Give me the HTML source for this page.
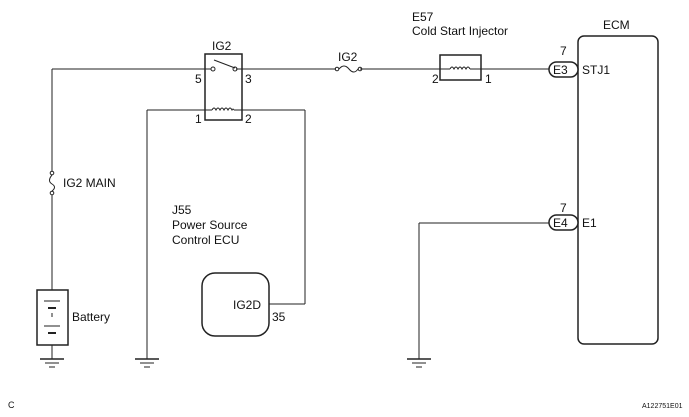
<!DOCTYPE html>
<html><head><meta charset="utf-8"><style>
html,body{margin:0;padding:0;background:#fff;}
svg{display:block;}
text{font-family:"Liberation Sans",Arial,sans-serif;font-size:12px;fill:#111;}
</style></head><body>
<svg width="689" height="417" viewBox="0 0 689 417" xmlns="http://www.w3.org/2000/svg">
<g fill="none" stroke="#222" stroke-width="1">
<!-- main top wire -->
<line x1="52" y1="69" x2="211" y2="69"/>
<line x1="236" y1="69" x2="336" y2="69"/>
<line x1="360" y1="69" x2="549" y2="69"/>
<!-- relay -->
<rect x="205" y="54" width="37" height="66" stroke-width="1.5"/>
<circle cx="213" cy="69" r="2"/><circle cx="235" cy="69" r="2"/>
<line x1="214" y1="60" x2="235" y2="68"/>
<!-- coil wire -->
<line x1="147" y1="110" x2="212" y2="110"/>
<line x1="234" y1="110" x2="305" y2="110"/>
<path d="M212 110 q2 -4 4 0 q2 -4 4 0 q2 -4 4 0 q2 -4 4 0 q2 -4 4 0 q1 -2 2 0"/>
<!-- left vertical with IG2 MAIN fuse -->
<line x1="52" y1="69" x2="52" y2="171"/>
<circle cx="52" cy="173" r="1.8"/>
<path d="M52 175 q-5 6 0 9 q5 3 0 7"/>
<circle cx="52" cy="193" r="1.8"/>
<line x1="52" y1="195" x2="52" y2="290"/>
<!-- battery -->
<rect x="37" y="290" width="31" height="55" stroke-width="1.5"/>
<line x1="44" y1="301" x2="60" y2="301"/>
<line x1="48" y1="308" x2="56" y2="308" stroke-width="2"/>
<line x1="52" y1="313" x2="52" y2="317"/>
<line x1="44" y1="326" x2="60" y2="326"/>
<line x1="48" y1="333" x2="56" y2="333" stroke-width="2"/>
<line x1="52" y1="345" x2="52" y2="359"/>
<line x1="40" y1="359" x2="64" y2="359" stroke-width="1.5"/>
<line x1="45" y1="363" x2="59" y2="363"/>
<line x1="49" y1="367" x2="55" y2="367"/>
<!-- ground from relay 1 -->
<line x1="147" y1="110" x2="147" y2="359"/>
<line x1="135" y1="359" x2="159" y2="359" stroke-width="1.5"/>
<line x1="140" y1="363" x2="154" y2="363"/>
<line x1="144" y1="367" x2="150" y2="367"/>
<!-- right relay wire to ECU -->
<line x1="305" y1="110" x2="305" y2="304"/>
<line x1="269" y1="304" x2="305" y2="304"/>
<rect x="202" y="273" width="67" height="63" rx="13" stroke-width="1.5"/>
<!-- IG2 fuse -->
<circle cx="337" cy="69" r="1.8"/>
<path d="M339 69 q5 -6 10 0 q5 6 9 0"/>
<circle cx="360" cy="69" r="1.8"/>
<!-- injector -->
<rect x="440" y="55" width="41" height="25" fill="#fff" stroke-width="1.5"/>
<line x1="440" y1="69" x2="450" y2="69"/>
<path d="M450 69 q2 -4 4 0 q2 -4 4 0 q2 -4 4 0 q2 -4 4 0 q2 -4 4 0"/>
<line x1="470" y1="69" x2="481" y2="69"/>
<!-- ECM -->
<rect x="578" y="36" width="80" height="308" rx="6" stroke-width="1.5"/>
<rect x="549" y="62" width="29" height="15" rx="7.5" fill="#fff" stroke-width="1.5"/>
<rect x="549" y="215" width="29" height="15" rx="7.5" fill="#fff" stroke-width="1.5"/>
<!-- E4 ground -->
<line x1="419" y1="223" x2="549" y2="223"/>
<line x1="419" y1="223" x2="419" y2="359"/>
<line x1="407" y1="359" x2="431" y2="359" stroke-width="1.5"/>
<line x1="412" y1="363" x2="426" y2="363"/>
<line x1="416" y1="367" x2="422" y2="367"/>
</g>
<text x="212" y="50">IG2</text>
<text x="195" y="83">5</text>
<text x="245" y="83">3</text>
<text x="195" y="123">1</text>
<text x="245" y="123">2</text>
<text x="338" y="61">IG2</text>
<text x="412" y="21">E57</text>
<text x="412" y="35">Cold Start Injector</text>
<text x="432" y="83">2</text>
<text x="485" y="83">1</text>
<text x="603" y="29">ECM</text>
<text x="560" y="55">7</text>
<text x="553" y="74">E3</text>
<text x="582" y="74">STJ1</text>
<text x="560" y="212">7</text>
<text x="553" y="227">E4</text>
<text x="582" y="227">E1</text>
<text x="63" y="187">IG2 MAIN</text>
<text x="172" y="214">J55</text>
<text x="172" y="229">Power Source</text>
<text x="172" y="244">Control ECU</text>
<text x="233" y="309">IG2D</text>
<text x="272" y="321">35</text>
<text x="72" y="321">Battery</text>
<text x="8" y="408" style="font-size:9px">C</text>
<text x="642" y="408" style="font-size:7px">A122751E01</text>
</svg>
</body></html>
